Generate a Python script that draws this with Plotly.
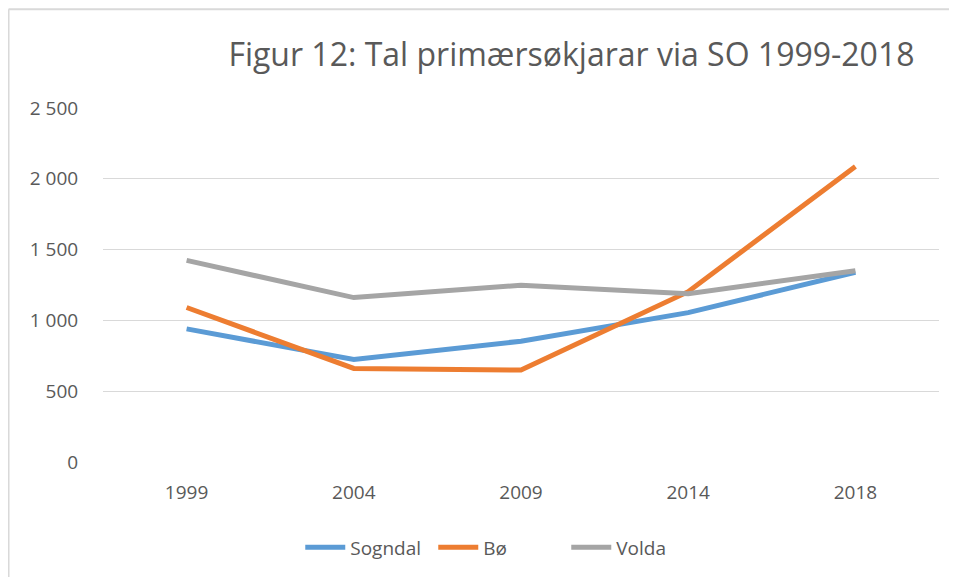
import plotly.graph_objects as go

years = ["1999", "2004", "2009", "2014", "2018"]
sogndal = [940, 724, 853, 1055, 1340]
bo = [1091, 661, 649, 1203, 2087]
volda = [1424, 1161, 1248, 1189, 1350]
y_ticks = [0, 500, 1000, 1500, 2000, 2500]

title_text = "Figur 12: Tal primærsøkjarar via SO 1999-2018"

font_family = "Open Sans, Noto Sans, sans-serif"
text_color = "#595959"

fig = go.Figure()
for name, vals, col in [("Sogndal", sogndal, "#5B9BD5"),
                        ("Bø", bo, "#ED7D31"),
                        ("Volda", volda, "#A5A5A5")]:
    fig.add_trace(go.Scatter(x=years, y=vals, name=name, mode="lines",
                             line=dict(color=col, width=5)))

# page body has an 8px margin, so the figure is drawn 8px smaller
fig.update_layout(
    width=949, height=569,
    margin=dict(l=95, r=17.5, t=100.3, b=114.3),
    paper_bgcolor="white", plot_bgcolor="white",
    separators=", ",
    font=dict(family=font_family, color=text_color, size=19),
    title=dict(text=title_text, x=0.9707, xref="paper", xanchor="right",
               y=1 - 47 / 569, yref="container", yanchor="middle",
               font=dict(size=32, color=text_color, family=font_family)),
    showlegend=True,
    legend=dict(orientation="h", x=0.4746, xanchor="center", y=-0.238,
                yanchor="middle", font=dict(size=19, color=text_color),
                itemwidth=40, entrywidth=78, entrywidthmode="pixels"),
    xaxis=dict(type="category", range=[-0.5, 4.5], showgrid=False,
               showline=False, zeroline=False,
               ticks="outside", ticklen=13, tickcolor="rgba(0,0,0,0)",
               tickfont=dict(size=19, color=text_color)),
    yaxis=dict(range=[0, 2500], tickvals=y_ticks, tickformat=",d",
               showgrid=True, gridcolor="#D9D9D9", gridwidth=1,
               zeroline=False, showline=False,
               ticks="outside", ticklen=20, tickcolor="rgba(0,0,0,0)",
               tickfont=dict(size=19, color=text_color)),
    shapes=[
        dict(type="line", xref="paper", yref="paper", x0=-0.113, x1=-0.113,
             y0=-0.5, y1=1.2788, line=dict(color="#D9D9D9", width=2)),
        dict(type="line", xref="paper", yref="paper", x0=-0.113, x1=1.1,
             y0=1.2788, y1=1.2788, line=dict(color="#D9D9D9", width=2)),
    ],
)

fig.write_html("out.html")
